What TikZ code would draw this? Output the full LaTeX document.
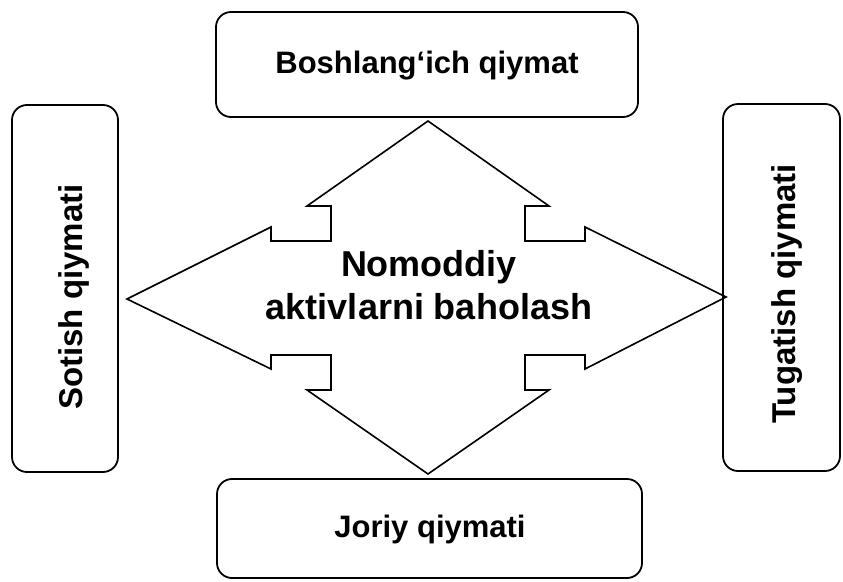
\documentclass[tikz,border=0pt]{standalone}
\usepackage{fontspec}
\setmainfont{Liberation Sans}
\usetikzlibrary{calc}
\begin{document}
\begin{tikzpicture}[x=1pt,y=-1pt,
  valuebox/.style={draw, line width=1.8pt, rounded corners=15pt},
  boxtext/.style={font=\bfseries\fontsize{31}{36}\selectfont, inner sep=0pt},
  sidetext/.style={font=\bfseries\fontsize{33}{38}\selectfont, inner sep=0pt, rotate=90},
  hubtext/.style={font=\bfseries\fontsize{36}{43}\selectfont, align=center, inner sep=0pt}]
  \useasboundingbox (0,0) rectangle (843,581);

  % four value boxes
  \draw[valuebox] (216,12) rectangle (638,117);
  \draw[valuebox] (217,479) rectangle (642,578);
  \draw[valuebox] (12,105) rectangle (118,472);
  \draw[valuebox] (723,104) rectangle (840,471);

  % box labels
  \node[boxtext, anchor=base] (top) at (427,73) {Boshlang‘ich qiymat};
  \node[boxtext, anchor=base] (bottom) at (430,537) {Joriy qiymati};
  \node[sidetext, anchor=base] (left) at (82,297) {Sotish qiymati};
  \node[sidetext, anchor=base] (right) at (795,294) {Tugatish qiymati};

  % four-way arrow around the hub
  \coordinate (c) at (428,298);
  \draw[line width=1.6pt, line join=miter]
    ($(c)+(0,-177)$) -- ($(c)+(121,-92)$) -- ($(c)+(97,-92)$) -- ($(c)+(97,-57)$)
    -- ($(c)+(157,-57)$) -- ($(c)+(157,-71)$) -- ($(c)+(298,-1)$)
    -- ($(c)+(157,71)$) -- ($(c)+(157,57)$) -- ($(c)+(97,57)$)
    -- ($(c)+(97,92)$) -- ($(c)+(121,92)$) -- ($(c)+(0,176)$)
    -- ($(c)+(-121,92)$) -- ($(c)+(-97,92)$) -- ($(c)+(-97,57)$)
    -- ($(c)+(-157,57)$) -- ($(c)+(-157,71)$) -- ($(c)+(-301,1)$)
    -- ($(c)+(-157,-71)$) -- ($(c)+(-157,-57)$) -- ($(c)+(-97,-57)$)
    -- ($(c)+(-97,-92)$) -- ($(c)+(-121,-92)$) -- cycle;

  % hub label
  \node[hubtext, anchor=base] (hub) at (429,319) {Nomoddiy\\aktivlarni baholash};
\end{tikzpicture}
\end{document}
